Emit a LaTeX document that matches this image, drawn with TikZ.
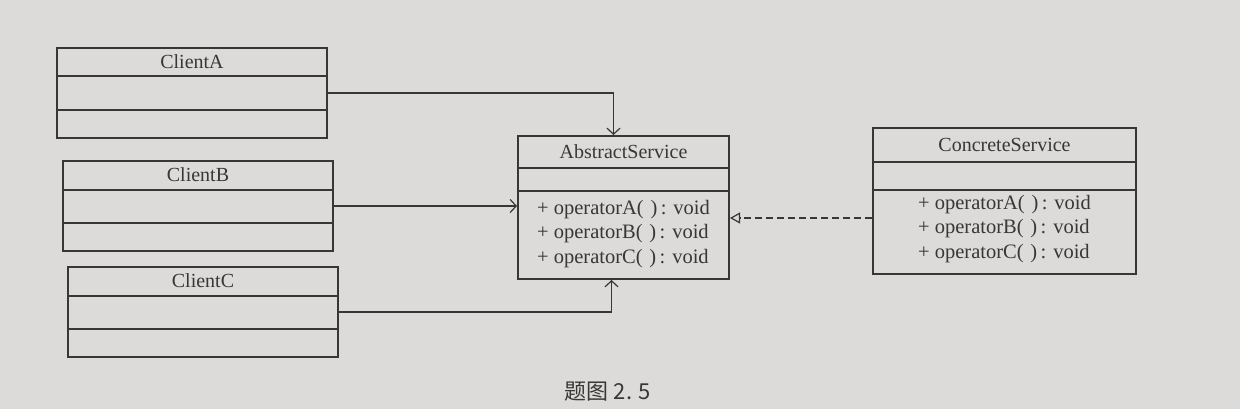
\documentclass[tikz,border=0pt]{standalone}
\usepackage{fontspec}
\setmainfont{Liberation Serif}
\newfontfamily\cjk{Noto Sans CJK SC}
\usetikzlibrary{arrows.meta}

\definecolor{paper}{RGB}{221,219,217}
\definecolor{ink}{RGB}{55,55,55}

\begin{document}
\begin{tikzpicture}[x=1pt, y=-1pt,
    classbox/.style={draw=ink, line width=2pt, anchor=north west, inner sep=0pt},
    divider/.style={draw=ink, line width=2pt},
    classname/.style={text=ink, font=\fontsize{20}{24}\selectfont},
    ops/.style={text=ink, align=left, font=\fontsize{20.5}{24.5}\selectfont},
    uses/.style={draw=ink, line width=1.2pt, -{Straight Barb[length=6pt, width=13pt]}},
    realizes/.style={draw=ink, line width=1.2pt, dash pattern=on 7pt off 4pt,
        -{Triangle[open, length=10pt, width=11pt]}}]

    % paper
    \fill[paper] (0,0) rectangle (1240,409);

    % the three clients
    \foreach \name/\x/\y in {A/56/47, B/62/160, C/67/266} {
        \node[classbox, minimum width=270pt, minimum height=90pt] (client\name) at (\x,\y) {};
        \draw[divider] (client\name.north west) ++(0,29.5) -- ++(270,0);
        \draw[divider] (client\name.north west) ++(0,63) -- ++(270,0);
        \path (client\name.north) ++(0,15) node[classname] (client\name title) {Client\name};
    }

    % AbstractService
    \node[classbox, minimum width=211pt, minimum height=143pt] (abstract) at (517,135) {};
    \draw[divider] (abstract.north west) ++(0,33) -- ++(211,0);
    \draw[divider] (abstract.north west) ++(0,56) -- ++(211,0);
    \path (abstract.north) ++(0,17) node[classname] (abstracttitle) {AbstractService};
    \path (abstract.north) ++(0,99) node[ops] (abstractops)
        {+ operatorA(\,\,)\,: void\\ + operatorB(\,\,)\,: void\\ + operatorC(\,\,)\,: void};

    % ConcreteService
    \node[classbox, minimum width=263pt, minimum height=146pt] (concrete) at (872,127) {};
    \draw[divider] (concrete.north west) ++(0,35) -- ++(263,0);
    \draw[divider] (concrete.north west) ++(0,63) -- ++(263,0);
    \path (concrete.north) ++(0,18) node[classname] (concretetitle) {ConcreteService};
    \path (concrete.north) ++(0,102) node[ops] (concreteops)
        {+ operatorA(\,\,)\,: void\\ + operatorB(\,\,)\,: void\\ + operatorC(\,\,)\,: void};

    % connectors
    \draw[uses] (clientA.east) -| ([xshift=-10pt]abstract.north);
    \draw[uses] (clientB.east) -- (abstract.west |- clientB.east);
    \draw[uses] (clientC.east) -| ([xshift=-12pt]abstract.south);
    \draw[realizes] (concrete.west) ++(0,17) coordinate (realizestart) -- (abstract.east |- realizestart);

    % caption
    \node[text=ink, font=\cjk\fontsize{22}{26}\selectfont] (caption) at (608,392) {题图 2. 5};
\end{tikzpicture}
\end{document}
